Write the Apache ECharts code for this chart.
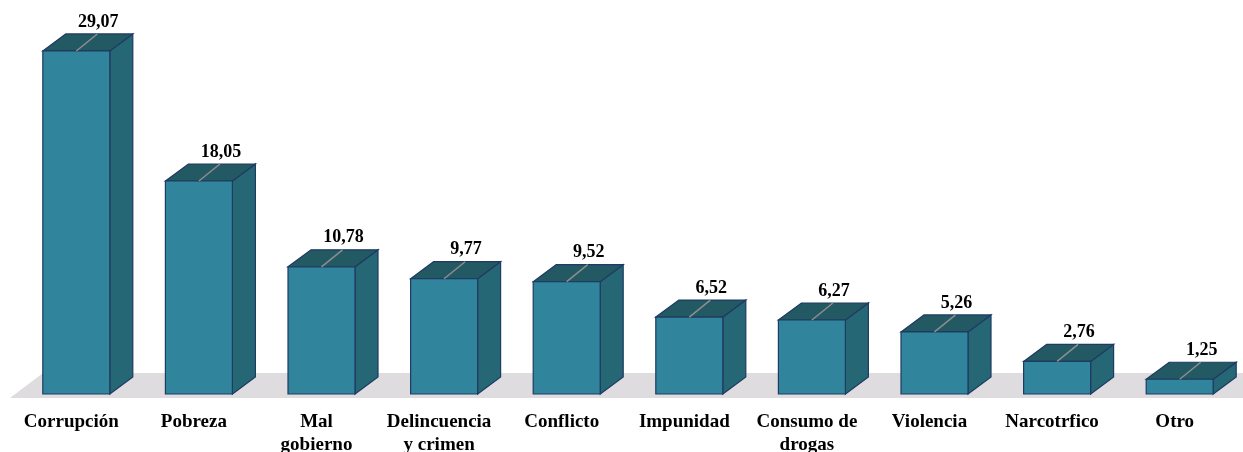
<!DOCTYPE html>
<html><head><meta charset="utf-8">
<script src="https://cdn.jsdelivr.net/npm/echarts@6/dist/echarts.min.js"></script>
<style>html,body{margin:0;padding:0;background:#fff}#c{width:1243px;height:452px}</style>
</head><body><div id="c"></div>
<script>
var categories = ['Corrupción','Pobreza','Mal\ngobierno','Delincuencia\ny crimen','Conflicto','Impunidad','Consumo de\ndrogas','Violencia','Narcotrfico','Otro'];
var values = [29.07, 18.05, 10.78, 9.77, 9.52, 6.52, 6.27, 5.26, 2.76, 1.25];
var valueLabels = ['29,07','18,05','10,78','9,77','9,52','6,52','6,27','5,26','2,76','1,25'];

var DX = 23, DY = -17, HALF = 33.5;
var chart = echarts.init(document.getElementById('c'));
chart.setOption({
  animation: false,
  grid: {left: 15, right: 2, top: 40, bottom: 58, outerBoundsMode: 'none', containLabel: false},
  xAxis: {type: 'category', data: categories, axisLine: {show: false}, axisTick: {show: false},
    axisLabel: {interval: 0, color: '#000', fontFamily: 'Liberation Serif', fontWeight: 'bold', fontSize: 19, lineHeight: 23, margin: 17, padding: [0, 10, 0, 0]}},
  yAxis: {type: 'value', min: 0, max: 30, show: false, splitLine: {show: false}},
  series: [{
    type: 'custom',
    data: values.map(function (v, i) { return [i, v]; }),
    renderItem: function (params, api) {
      var top = api.coord([api.value(0), api.value(1)]);
      var base = api.coord([api.value(0), 0]);
      var cx = top[0], yT = top[1], yB = base[1];
      var l = cx - HALF, r = cx + HALF;
      var lbl = valueLabels[params.dataIndex];
      var stroke = '#1F3A63';
      return {type: 'group', children: [
        {type: 'polygon', shape: {points: [[r, yT], [r + DX, yT + DY], [r + DX, yB + DY], [r, yB]]},
          style: {fill: '#266775', stroke: stroke, lineWidth: 1.2}},
        {type: 'polygon', shape: {points: [[l, yT], [l + DX, yT + DY], [r + DX, yT + DY], [r, yT]]},
          style: {fill: '#235963', stroke: stroke, lineWidth: 1.2}},
        {type: 'rect', shape: {x: l, y: yT, width: r - l, height: yB - yT},
          style: {fill: '#30849B', stroke: stroke, lineWidth: 1.2}},
        {type: 'line', shape: {x1: cx, y1: yT, x2: cx + DX - 2, y2: yT + DY}, style: {stroke: '#8E8E8E', lineWidth: 1.5}},
        {type: 'text', x: cx + DX - 1, y: yT + DY - 3,
          style: {text: lbl, fill: '#000', font: 'bold 18px "Liberation Serif"', align: 'center', verticalAlign: 'bottom'}}
      ]};
    }
  }]
});
var b0 = chart.convertToPixel({xAxisIndex: 0, yAxisIndex: 0}, [0, 0]);
var y0 = b0[1];
chart.setOption({graphic: [{type: 'polygon', z: -10, silent: true,
  shape: {points: [[10, y0 + 4], [43, y0 - 21], [1243, y0 - 21], [1243, y0 + 4]]},
  style: {fill: '#DEDCDE'}}]});
</script></body></html>
